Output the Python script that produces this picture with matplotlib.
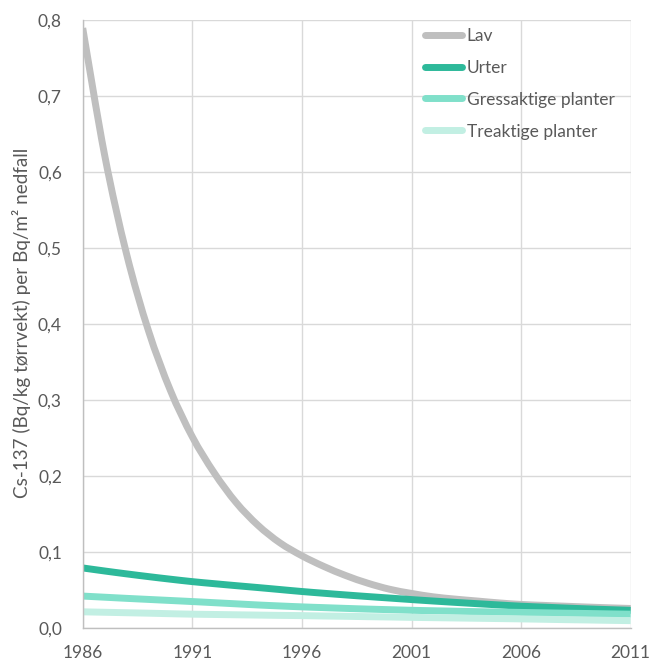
import matplotlib.pyplot as plt
import matplotlib.ticker as mticker
from matplotlib.path import Path
from matplotlib.patches import PathPatch
from matplotlib.lines import Line2D

# years 1986-2011
years = list(range(1986, 2012))

# Cs-137 transfer, Bq/kg dry weight per Bq/m2 fallout
lav = [0.789, 0.622, 0.492, 0.391, 0.3125, 0.2515, 0.204, 0.165, 0.135, 0.112,
       0.095, 0.081, 0.069, 0.059, 0.051, 0.0455, 0.041, 0.038, 0.0355, 0.033,
       0.031, 0.0298, 0.0287, 0.0276, 0.0266, 0.0257]
urter = [0.079, 0.075, 0.0712, 0.0676, 0.0642, 0.061, 0.0583, 0.0557, 0.0532, 0.0506,
         0.048, 0.0457, 0.0435, 0.0414, 0.0394, 0.0374, 0.0355, 0.0337, 0.032, 0.0303,
         0.0287, 0.0275, 0.0263, 0.0252, 0.0242, 0.0233]
gress = [0.042, 0.0405, 0.039, 0.0376, 0.0362, 0.0348, 0.0333, 0.0318, 0.0303, 0.029,
         0.0278, 0.0268, 0.0258, 0.0249, 0.0241, 0.0233, 0.0227, 0.0221, 0.0215, 0.021,
         0.0205, 0.02, 0.0195, 0.0191, 0.0186, 0.0182]
tre = [0.0213, 0.0207, 0.0201, 0.0195, 0.0188, 0.0182, 0.0178, 0.0174, 0.017, 0.0166,
       0.0163, 0.0158, 0.0154, 0.0149, 0.0145, 0.014, 0.0136, 0.0132, 0.0128, 0.0124,
       0.012, 0.0115, 0.011, 0.0106, 0.0101, 0.0097]

series = [('Lav', lav, '#BFBFBF'),
          ('Urter', urter, '#2DB99A'),
          ('Gressaktige planter', gress, '#80E0CA'),
          ('Treaktige planter', tre, '#C2EFE3')]

xticks = [1986, 1991, 1996, 2001, 2006, 2011]

plt.rcParams['font.family'] = ['Lato', 'DejaVu Sans']
txt = '#595959'
lw = 5


def smooth_path(x, y):
    # excel-style smoothed line: catmull-rom through the points as bezier segments
    verts = [(x[0], y[0])]
    codes = [Path.MOVETO]
    n = len(x)
    for i in range(n - 1):
        x0, y0 = (x[i - 1], y[i - 1]) if i > 0 else (x[i], y[i])
        x3, y3 = (x[i + 2], y[i + 2]) if i + 2 < n else (x[i + 1], y[i + 1])
        x1, y1 = x[i], y[i]
        x2, y2 = x[i + 1], y[i + 1]
        c1 = (x1 + (x2 - x0) / 6, y1 + (y2 - y0) / 6)
        c2 = (x2 - (x3 - x1) / 6, y2 - (y3 - y1) / 6)
        verts += [c1, c2, (x2, y2)]
        codes += [Path.CURVE4] * 3
    return Path(verts, codes)


fig = plt.figure(figsize=(6.58, 6.64), dpi=100)
ax = fig.add_axes([0.1257, 0.0542, 0.8328, 0.9161])

handles = []
for name, vals, col in series:
    ax.add_patch(PathPatch(smooth_path(years, vals), fill=False, edgecolor=col,
                           lw=lw, capstyle='butt', joinstyle='round'))
    handles.append(Line2D([], [], color=col, lw=lw, solid_capstyle='round', label=name))

ax.set_xlim(1986, 2011)
ax.set_ylim(0, 0.8)
ax.set_xticks(xticks)
ax.set_yticks([i / 10 for i in range(9)])
ax.yaxis.set_major_formatter(mticker.FuncFormatter(lambda v, p: f'{v:.1f}'.replace('.', ',')))
ax.tick_params(length=0, labelsize=12.5, labelcolor=txt)
ax.tick_params(axis='y', pad=15)
ax.tick_params(axis='x', pad=12)

ax.grid(color='#D9D9D9', lw=1)
ax.set_axisbelow(True)
for s in ['top', 'right']:
    ax.spines[s].set_visible(False)
for s in ['left', 'bottom']:
    ax.spines[s].set_color('#BFBFBF')
    ax.spines[s].set_linewidth(1)

ylab = fig.text(22 / 658, 1 - 323 / 664, 'Cs-137 (Bq/kg tørrvekt) per Bq/m² nedfall',
                rotation=90, ha='center', va='center', fontsize=11, color=txt)
# fit the axis title to the length it has in the original (about 350 px)
fig.canvas.draw()
bb = ylab.get_window_extent(fig.canvas.get_renderer())
ylab.set_fontsize(11 * 350 / bb.height)

leg = ax.legend(handles=handles, loc='upper left', bbox_to_anchor=(0.625, 0.987),
                frameon=False, fontsize=12.5, handlelength=2.1, handletextpad=0.3,
                labelspacing=0.92, borderpad=0, borderaxespad=0)
for t in leg.get_texts():
    t.set_color(txt)

fig.savefig('out.png', dpi=100)
